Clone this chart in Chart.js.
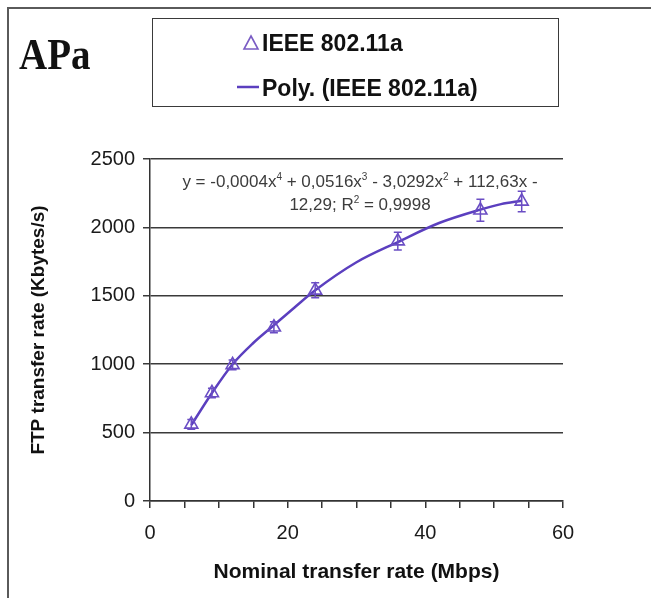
<!DOCTYPE html>
<html>
<head>
<meta charset="utf-8">
<script src="https://cdn.jsdelivr.net/npm/chart.js@4.4.0/dist/chart.umd.min.js"></script>
<style>
  html, body { margin: 0; padding: 0; background: #fff; }
  #wrap { position: relative; width: 651px; height: 598px; overflow: hidden; background: #fff; }
  #c { position: absolute; left: 0; top: 0; }
  .frame { position: absolute; left: 7px; top: 7px; width: 700px; height: 700px;
           border-left: 2px solid #5a5a5a; border-top: 2px solid #5a5a5a; }
  .title { position: absolute; left: 19px; top: 31px; font-family: "Liberation Serif", "Times New Roman", serif;
           font-weight: bold; font-size: 39px; color: #111; transform: scaleY(1.15); transform-origin: left top; line-height: 1; }
  .legend { position: absolute; left: 152px; top: 18px; width: 407px; height: 89px;
            border: 1.5px solid #3a3a3a; box-sizing: border-box; }
  .leg-item { position: absolute; font-family: "Liberation Sans", Arial, sans-serif; font-weight: bold;
              font-size: 23px; color: #111; white-space: nowrap; line-height: 1; }
  .eq { position: absolute; left: 160px; width: 400px; top: 170px; text-align: center;
        font-family: "Liberation Sans", Arial, sans-serif; font-size: 17px; color: #3c3c3c; line-height: 23px; }
  .eq sup { font-size: 10px; line-height: 0; vertical-align: 7px; }
</style>
</head>
<body>
<div id="wrap">
  <canvas id="c" width="651" height="598"></canvas>
  <div class="frame"></div>
  <div class="title">APa</div>
  <div class="legend"></div>
  <svg style="position:absolute;left:242px;top:34px" width="18" height="18">
    <polygon points="9,2 16,15 2,15" fill="none" stroke="#7a5cc4" stroke-width="1.6"/>
  </svg>
  <div class="leg-item" style="left:262px;top:32px;">IEEE 802.11a</div>
  <svg style="position:absolute;left:236px;top:81px" width="24" height="12">
    <line x1="1" y1="6" x2="23" y2="6" stroke="#5b3fbf" stroke-width="2.5"/>
  </svg>
  <div class="leg-item" style="left:262px;top:77px;">Poly. (IEEE 802.11a)</div>
  <div class="eq">y = -0,0004x<sup>4</sup> + 0,0516x<sup>3</sup> - 3,0292x<sup>2</sup> + 112,63x -<br>12,29; R<sup>2</sup> = 0,9998</div>
</div>
<script>
// ---- data ----
const nominalRates = [6, 9, 12, 18, 24, 36, 48, 54];            // Mbps
const ftpRates     = [560, 790, 995, 1270, 1540, 1900, 2125, 2190]; // kbytes/s
const ftpErrors    = [35, 35, 35, 40, 55, 65, 80, 75];
const trendX       = [6, 9, 12, 15, 18, 21, 24, 30, 36, 42, 48, 51, 54];
const trendY       = [555, 790, 1000, 1155, 1285, 1415, 1540, 1745, 1893, 2032, 2130, 2170, 2195];
const yTicks       = [0, 500, 1000, 1500, 2000, 2500];
const xTickLabels  = [0, 20, 40, 60];

const lineColor = '#5b3fbf';
const markColor = '#6a4dc4';
const FONT = '"Liberation Sans", Arial, sans-serif';

const errorBars = {
  id: 'errorBars',
  afterDatasetsDraw(chart) {
    const ctx = chart.ctx, xs = chart.scales.x, ys = chart.scales.y;
    ctx.save();
    ctx.strokeStyle = markColor;
    ctx.lineWidth = 1.5;
    nominalRates.forEach((xv, i) => {
      const px = xs.getPixelForValue(xv);
      const top = ys.getPixelForValue(ftpRates[i] + ftpErrors[i]);
      const bot = ys.getPixelForValue(ftpRates[i] - ftpErrors[i]);
      ctx.beginPath();
      ctx.moveTo(px, top); ctx.lineTo(px, bot);
      ctx.moveTo(px - 4, top); ctx.lineTo(px + 4, top);
      ctx.moveTo(px - 4, bot); ctx.lineTo(px + 4, bot);
      ctx.stroke();
    });
    ctx.restore();
  }
};

new Chart(document.getElementById('c'), {
  type: 'scatter',
  data: {
    datasets: [
      {
        label: 'Poly. (IEEE 802.11a)',
        data: trendX.map((x, i) => ({ x, y: trendY[i] })),
        showLine: true,
        borderColor: lineColor,
        borderWidth: 2.5,
        pointRadius: 0,
        cubicInterpolationMode: 'monotone',
        order: 2
      },
      {
        label: 'IEEE 802.11a',
        data: nominalRates.map((x, i) => ({ x, y: ftpRates[i] })),
        pointStyle: 'triangle',
        pointRadius: 7.5,
        pointBorderWidth: 1.6,
        pointBorderColor: markColor,
        pointBackgroundColor: 'rgba(255,255,255,0)',
        order: 1
      }
    ]
  },
  options: {
    responsive: false,
    animation: false,
    devicePixelRatio: 1,
    layout: { padding: { left: 0, top: 159, right: 88, bottom: 0 } },
    plugins: { legend: { display: false }, tooltip: { enabled: false }, title: { display: false } },
    scales: {
      x: {
        type: 'linear', min: 0, max: 60,
        afterFit(s) { s.height = 97; },
        border: { display: true, color: '#333', width: 1.5 },
        grid: { drawOnChartArea: false, drawTicks: true, tickLength: 7, color: '#333', lineWidth: 1.5 },
        ticks: {
          stepSize: 5, padding: 13, color: '#1a1a1a', maxRotation: 0, autoSkip: false,
          font: { family: FONT, size: 20 },
          callback: v => xTickLabels.includes(v) ? String(v) : ''
        },
        title: { display: true, text: 'Nominal transfer rate (Mbps)', color: '#111',
                 font: { family: FONT, size: 21, weight: 'bold' }, padding: { top: 0, bottom: 13 } }
      },
      y: {
        type: 'linear', min: 0, max: 2500,
        afterFit(s) { s.width = 150; },
        afterBuildTicks(s) { s.ticks = yTicks.map(v => ({ value: v })); },
        border: { display: true, color: '#333', width: 1.5 },
        grid: { drawOnChartArea: true, drawTicks: true, tickLength: 7, color: '#3a3a3a', lineWidth: 1.5 },
        ticks: { padding: 8, color: '#1a1a1a', font: { family: FONT, size: 20 }, callback: v => String(v) },
        title: { display: true, text: 'FTP transfer rate (Kbytes/s)', color: '#111',
                 font: { family: FONT, size: 19, weight: 'bold' }, padding: { top: 27, bottom: 0 } }
      }
    }
  },
  plugins: [errorBars]
});
</script>
</body>
</html>
